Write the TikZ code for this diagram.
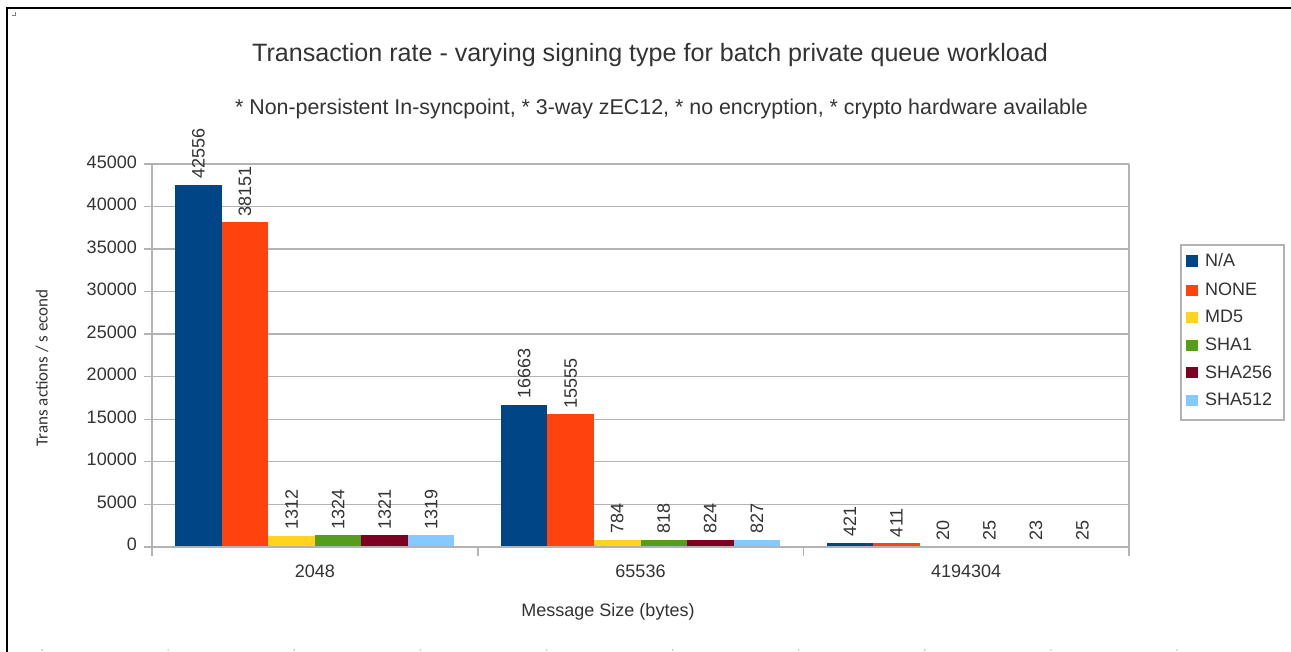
\documentclass[tikz,border=0pt]{standalone}
\usepackage{fontspec}
\setmainfont{Liberation Sans}
\newfontfamily\carl{Carlito}
\definecolor{c0}{HTML}{004586}
\definecolor{c1}{HTML}{FF420E}
\definecolor{c2}{HTML}{FFD320}
\definecolor{c3}{HTML}{579D1C}
\definecolor{c4}{HTML}{7E0021}
\definecolor{c5}{HTML}{83CAFF}
\definecolor{txt}{HTML}{333333}
\definecolor{gridc}{HTML}{B3B3B3}
\tikzset{
  gridline/.style={draw=gridc, line width=1.2pt},
  axisline/.style={draw=gridc, line width=1.6pt},
  small/.style={font=\fontsize{18}{20}\selectfont, text=txt, inner sep=0pt},
  ylab/.style={small, anchor=east},
  catlab/.style={small, anchor=base},
  dlab/.style={small, rotate=90, anchor=west},
  legtext/.style={small, anchor=base west},
  legbox/.style={draw=gridc, line width=1.6pt},
}
\begin{document}
\begin{tikzpicture}[x=1pt,y=-1pt]
\useasboundingbox (0,0) rectangle (1291,652);
\fill[white] (0,0) rectangle (1291,652);
% outer frame
\draw[black, line width=1.5pt] (7,652) -- (7,8) -- (1291,8);
\draw[gray, line width=1pt] (12,15.5) -- (15.5,15.5) -- (15.5,12);
\foreach \k in {0,...,9} \fill[gray!60] (42+\k*126.1,650) circle (0.8);
% titles
\node[font=\fontsize{25.1}{28}\selectfont, text=txt, anchor=base, inner sep=0pt] (title) at (650,62)
  {Transaction rate - varying signing type for batch private queue workload};
\node[font=\fontsize{21.4}{24}\selectfont, text=txt, anchor=base, inner sep=0pt] (subtitle) at (661.5,115)
  {* Non-persistent In-syncpoint, * 3-way zEC12, * no encryption, * crypto hardware available};
% grid and y labels
\foreach \k in {1,...,9} {
  \pgfmathsetmacro\yy{546.7-\k*42.52}
  \draw[gridline] (144,\yy) -- (1129,\yy);
}
\foreach \k in {0,...,9} {
  \pgfmathsetmacro\yy{546.7-\k*42.52}
  \pgfmathtruncatemacro\val{\k*5}
  \node[ylab] (y\k) at (137,\yy-2) {\ifnum\val=0 0\else\val000\fi};
}
% bars and data labels
\foreach \v/\h [count=\n from 0] in {42556/361.91,38151/324.45,1312/11.16,1324/11.26,1321/11.23,1319/11.22,
    16663/141.71,15555/132.28,784/6.67,818/6.96,824/7.01,827/7.03,
    421/3.58,411/3.50,20/0.17,25/0.21,23/0.20,25/0.21} {
  \pgfmathtruncatemacro\g{\n/6}
  \pgfmathtruncatemacro\i{mod(\n,6)}
  \pgfmathsetmacro\xa{152+\g*325.67+23.27+\i*46.52}
  \pgfmathsetmacro\xb{\xa+46.52}
  \pgfmathsetmacro\xc{\xa+23.26}
  \pgfmathsetmacro\yt{546.7-\h}
  \fill[c\i] (\xa,546.7) rectangle (\xb,\yt);
  \node[dlab] (d\n) at (\xc,\yt-6) {\v};
}
% axes
\draw[axisline] (144,546.7) -- (1129,546.7);
\draw[axisline] (152,164) -- (152,556);
\draw[axisline] (1129,164) -- (1129,556);
\foreach \xx in {477.7,803.3} \draw[axisline] (\xx,546.7) -- (\xx,556);
% category labels
\node[catlab] (cat1) at (314.8,577) {2048};
\node[catlab] (cat2) at (640.5,577) {65536};
\node[catlab] (cat3) at (966.2,577) {4194304};
% axis titles
\node[small, anchor=base] (xtitle) at (608,616.5) {Message Size (bytes)};
\node[font=\carl\fontsize{17}{18}\selectfont, text=txt, rotate=90, inner sep=0pt] (ytitle) at (42,368) {Trans actions / s econd};
% legend
\draw[legbox] (1181,245) rectangle (1284,420);
\fill[c0] (1186,255.5) rectangle (1198,266.7);
\node[legtext] (l0) at (1205,266.7) {N/A};
\fill[c1] (1186,284.8) rectangle (1198,296);
\node[legtext] (l1) at (1205,296) {NONE};
\fill[c2] (1186,311.8) rectangle (1198,323);
\node[legtext] (l2) at (1205,323) {MD5};
\fill[c3] (1186,339.8) rectangle (1198,351);
\node[legtext] (l3) at (1205,351) {SHA1};
\fill[c4] (1186,366.8) rectangle (1198,378);
\node[legtext] (l4) at (1205,378) {SHA256};
\fill[c5] (1186,394.5) rectangle (1198,405.7);
\node[legtext] (l5) at (1205,405.7) {SHA512};
\end{tikzpicture}
\end{document}
